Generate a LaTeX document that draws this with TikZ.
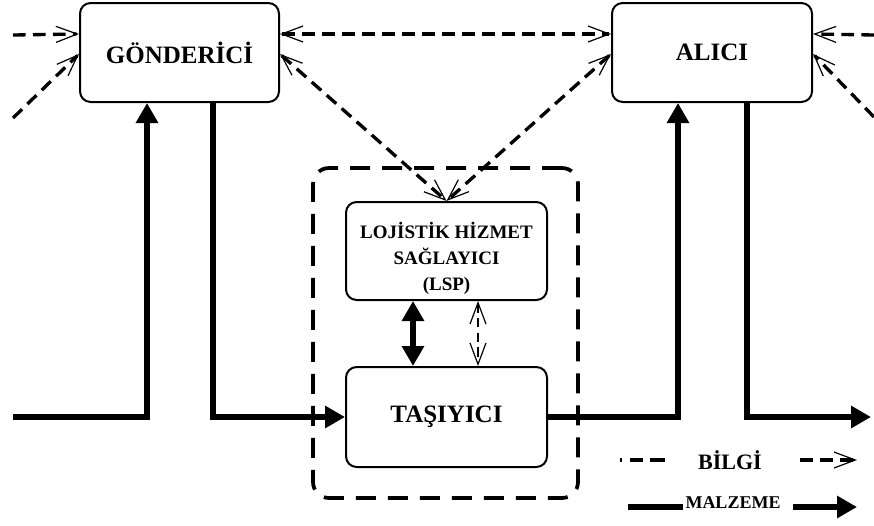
\documentclass[tikz,border=0pt]{standalone}
\usepackage{fontspec}
\setmainfont{Liberation Serif}
\usetikzlibrary{arrows.meta,calc}
\begin{document}
\begin{tikzpicture}[x=0.75pt,y=-0.75pt,
  box/.style={draw,line width=1.5pt,rounded corners=8pt,inner sep=0pt,
    font=\bfseries\fontsize{18.75}{22}\selectfont},
  mat/.style={line width=4pt,-{Triangle[length=15pt,width=16pt]}},
  matd/.style={line width=4pt,{Triangle[length=15pt,width=16pt]}-{Triangle[length=15pt,width=16pt]}},
  barb/.tip={Straight Barb[length=16pt,width=12pt,line width=0.9pt]},
  inf/.style={line width=2.5pt,dash pattern=on 9.5pt off 5.5pt,-barb},
  infd/.style={line width=2.5pt,dash pattern=on 9.5pt off 5.5pt,barb-barb},
  infs/.style={line width=1.3pt,dash pattern=on 7pt off 4pt,barb-barb},
  contbox/.style={draw,line width=2.8pt,dash pattern=on 15pt off 9pt,rounded corners=12pt,inner sep=0pt}
]
\useasboundingbox (0,0) rectangle (874,525);

% container
\node[contbox,minimum width=198.75pt,minimum height=247.5pt] (cont) at (445.5,333) {};

% boxes
\node[box,minimum width=149.25pt,minimum height=74.25pt] (gon) at (179.5,52.5) {GÖNDERİCİ};
\node[box,minimum width=150pt,minimum height=74.25pt] (alc) at (712,52.5) {ALICI};
\node[box,minimum width=150.75pt,minimum height=73.5pt,
  label={[name=lspt,align=center,yshift=-5.25pt,font=\bfseries\fontsize{14.25}{19.5}\selectfont]center:LOJİSTİK HİZMET\\SAĞLAYICI\\(LSP)}] (lsp) at (446.5,251) {};
\node[box,minimum width=150.75pt,minimum height=75pt] (tas) at (446.5,417) {TAŞIYICI};

% free ends
\coordinate (lin) at (13,417);
\coordinate (rout) at (871,417);
\coordinate (l1) at (13,35);
\coordinate (l2) at (13,118);
\coordinate (r1) at (874,35);
\coordinate (r2) at (874,117);

% material flows
\draw[mat] (lin) -| ($(gon.south)+(-32.5,0)$);
\draw[mat] ($(gon.south)+(33.5,0)$) |- (tas.west);
\draw[mat] (tas.east) -| ($(alc.south)+(-34,0)$);
\draw[mat] ($(alc.south)+(35,0)$) |- (rout);
\draw[matd] ($(lsp.south)+(-33.5,0)$) -- ($(tas.north)+(-33.5,0)$);
\draw[infs] ($(lsp.south)+(31.5,0)$) -- ($(tas.north)+(31.5,0)$);

% information flows
\draw[inf] (l1) -- ($(gon.north west)+(0,32)$);
\draw[inf] (l2) -- ($(gon.north west)+(0,52)$);
\draw[infd] ($(gon.north east)+(0,32)$) -- ($(alc.north west)+(0,32)$);
\draw[infd] ($(gon.north east)+(0,52)$) -- (lsp.north);
\draw[infd] ($(alc.north west)+(0,52)$) -- (lsp.north);
\draw[inf] (r1) -- ($(alc.north east)+(0,32)$);
\draw[inf] (r2) -- ($(alc.north east)+(0,52)$);

% legend
\node[font=\bfseries\fontsize{16.5}{18}\selectfont] (bilgi) at (730,460) {BİLGİ};
\coordinate (b1) at (620,460);
\coordinate (b2) at (665,460);
\coordinate (b3) at (800,460);
\coordinate (b4) at (857,460);
\draw[line width=2.5pt,dash pattern=on 1.5pt off 6pt on 10pt off 5pt on 11pt off 5pt] (b1) -- (b2);
\draw[inf] (b3) -- (b4);

\node[font=\bfseries\fontsize{13.5}{15}\selectfont,inner sep=0pt] (malz) at (733,503) {MALZEME};
\coordinate (m1) at (628,507);
\coordinate (m2) at (683,507);
\coordinate (m3) at (793,507);
\coordinate (m4) at (857,507);
\draw[line width=4pt] (m1) -- (m2);
\draw[mat] (m3) -- (m4);
\end{tikzpicture}
\end{document}
